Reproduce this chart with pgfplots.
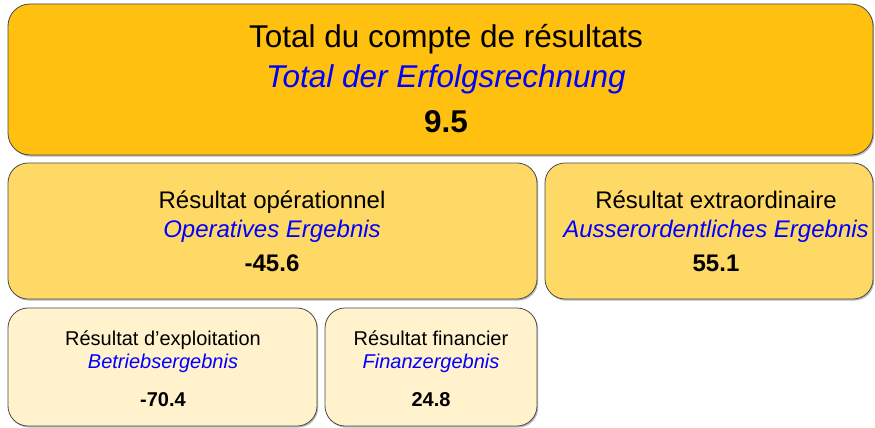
\documentclass[border=0pt]{standalone}
\usepackage{pgfplots}
\pgfplotsset{compat=1.18}
\usepackage{fontspec}
\setmainfont{Liberation Sans}
\definecolor{cTop}{HTML}{FFC010}
\definecolor{cMid}{HTML}{FFD966}
\definecolor{cLow}{HTML}{FFF2CC}
\definecolor{cEdge}{HTML}{4A4A4A}
\definecolor{cBlue}{HTML}{0000FF}
\newcommand{\resbox}[6]{% x1,y1,x2,y2,color,radius
  \fill[black!28, rounded corners=#6] (#1+1.2,#2+1.6) rectangle (#3+1.2,#4+1.6);
  \filldraw[fill=#5, draw=cEdge, line width=0.8pt, rounded corners=#6] (#1,#2) rectangle (#3,#4);}
\begin{document}
\begin{tikzpicture}
\begin{axis}[width=875pt,height=428pt,scale only axis,
  xmin=0,xmax=875,ymin=0,ymax=428,y dir=reverse,hide axis,clip=false]
\path[use as bounding box] (0,0) rectangle (875,428);
\resbox{8}{4}{873}{155}{cTop}{22pt}
\resbox{8}{163}{537}{299}{cMid}{20pt}
\resbox{545}{163}{873}{299}{cMid}{20pt}
\resbox{8}{308}{317}{426}{cLow}{20pt}
\resbox{325}{308}{537}{426}{cLow}{20pt}
% labels
\node[anchor=base,inner sep=0pt,font=\fontsize{31.5}{31.5}\selectfont] at (446,48) {Total du compte de résultats};
\node[anchor=base,inner sep=0pt,font=\fontsize{31.5}{31.5}\selectfont\itshape,text=cBlue] at (446,88) {Total der Erfolgsrechnung};
\node[anchor=base,inner sep=0pt,font=\fontsize{24}{24}\selectfont] at (272,208) {Résultat opérationnel};
\node[anchor=base,inner sep=0pt,font=\fontsize{24}{24}\selectfont\itshape,text=cBlue] at (272,237) {Operatives Ergebnis};
\node[anchor=base,inner sep=0pt,font=\fontsize{24}{24}\selectfont] at (716,208) {Résultat extraordinaire};
\node[anchor=base,inner sep=0pt,font=\fontsize{24}{24}\selectfont\itshape,text=cBlue] at (716,237) {Ausserordentliches Ergebnis};
\node[anchor=base,inner sep=0pt,font=\fontsize{20}{20}\selectfont] at (163,345) {Résultat d’exploitation};
\node[anchor=base,inner sep=0pt,font=\fontsize{20}{20}\selectfont\itshape,text=cBlue] at (163,368) {Betriebsergebnis};
\node[anchor=base,inner sep=0pt,font=\fontsize{20}{20}\selectfont] at (431,345) {Résultat financier};
\node[anchor=base,inner sep=0pt,font=\fontsize{20}{20}\selectfont\itshape,text=cBlue] at (431,368) {Finanzergebnis};
% values
\addplot[draw=none, mark=none, point meta=explicit symbolic, nodes near coords,
  nodes near coords style={anchor=base, inner sep=0pt, font=\fontsize{31.5}{31.5}\selectfont\bfseries}]
  table[meta=v] {
x y v
446 132 9.5
};
\addplot[draw=none, mark=none, point meta=explicit symbolic, nodes near coords,
  nodes near coords style={anchor=base, inner sep=0pt, font=\fontsize{24}{24}\selectfont\bfseries}]
  table[meta=v] {
x y v
272 271 -45.6
716 271 55.1
};
\addplot[draw=none, mark=none, point meta=explicit symbolic, nodes near coords,
  nodes near coords style={anchor=base, inner sep=0pt, font=\fontsize{20}{20}\selectfont\bfseries}]
  table[meta=v] {
x y v
163 406 -70.4
431 406 24.8
};
\end{axis}
\end{tikzpicture}
\end{document}
